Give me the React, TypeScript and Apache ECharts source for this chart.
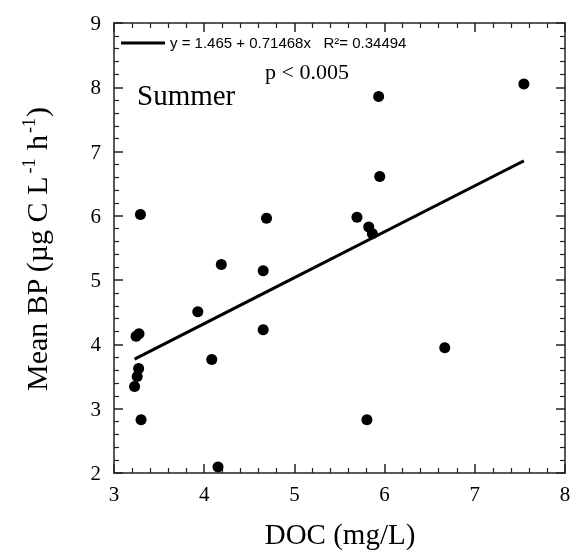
import React, { useEffect, useRef } from "react";
import * as echarts from "echarts";

const docValues = [3.293, 3.245, 3.277, 3.273, 3.257, 3.228, 3.3, 3.929, 4.084, 4.19, 4.153, 4.654, 4.654, 4.691, 5.694, 5.824, 5.865, 5.934, 5.946, 5.804, 6.667, 7.544];
const bpValues = [6.02, 4.127, 4.165, 3.625, 3.5, 3.347, 2.83, 4.508, 3.767, 5.244, 2.093, 5.146, 4.23, 5.964, 5.98, 5.828, 5.72, 7.856, 6.613, 2.829, 3.947, 8.052];
const intercept = 1.465;
const slope = 0.71468;
const xTicks = [3, 8, 1];
const yTicks = [2, 9, 1];
const fitLabel = "y = 1.465 + 0.71468x   R\u00B2= 0.34494";
const pLabel = "p < 0.005";
const seasonLabel = "Summer";
const xTitle = "DOC (mg/L)";
const yTitleParts = [
  { t: "Mean BP (\u00B5g C L", sup: false },
  { t: "-1", sup: true },
  { t: " h", sup: false },
  { t: "-1", sup: true },
  { t: ")", sup: false },
];

const SERIF = "Liberation Serif";
const SANS = "Liberation Sans";
const AX = "#222";

function measure(text: string, font: string) {
  const c = document.createElement("canvas").getContext("2d");
  if (!c) return text.length * 12;
  c.font = font;
  return c.measureText(text).width;
}

function makeAxis(ticks: number[], labels: boolean, labelMargin: number) {
  return {
    type: "value",
    min: ticks[0],
    max: ticks[1],
    interval: ticks[2],
    axisLine: { show: true, lineStyle: { color: AX, width: 1.5 } },
    axisTick: { show: true, inside: true, length: 9, lineStyle: { color: AX, width: 1.5 } },
    minorTick: { show: true, splitNumber: 5, length: 5, lineStyle: { color: AX, width: 1.2 } },
    splitLine: { show: false },
    axisLabel: labels
      ? { show: true, color: "#000", fontFamily: SERIF, fontSize: 21, margin: labelMargin }
      : { show: false },
  };
}

export default function App() {
  const ref = useRef<HTMLDivElement>(null);
  useEffect(() => {
    document.body.style.margin = "0";
    const chart = echarts.init(ref.current!, null, { renderer: "svg" });
    const pts = docValues.map((x, i) => [x, bpValues[i]]);
    const xmin = Math.min(...docValues);
    const xmax = Math.max(...docValues);
    const fit = [
      [xmin, intercept + slope * xmin],
      [xmax, intercept + slope * xmax],
    ];

    const mainFont = `30px ${SERIF}`;
    const supFont = `18px ${SERIF}`;
    const widths = yTitleParts.map((p) => measure(p.t, p.sup ? supFont : mainFont) + (p.sup ? 3 : 0));
    const total = widths.reduce((a, b) => a + b, 0);
    let cx = -total / 2;
    const yChildren = yTitleParts.map((p, i) => {
      const el = {
        type: "text",
        x: cx + (p.sup ? 2 : 0),
        y: p.sup ? -16 : -15,
        style: { text: p.t, fill: "#000", font: p.sup ? supFont : mainFont },
      };
      cx += widths[i];
      return el;
    });

    const xTitleFont = `29px ${SERIF}`;
    const xTitleW = measure(xTitle, xTitleFont);

    chart.setOption({
      animation: false,
      grid: { left: 114, right: 11, top: 23, bottom: 77 },
      xAxis: [makeAxis(xTicks, true, 10), makeAxis(xTicks, false, 0)],
      yAxis: [makeAxis(yTicks, true, 13), makeAxis(yTicks, false, 0)],
      graphic: [
        {
          type: "line",
          shape: { x1: 121, y1: 43, x2: 165, y2: 43 },
          style: { stroke: "#000", lineWidth: 3 },
        },
        {
          type: "text", x: 170, y: 35,
          style: { text: fitLabel, fill: "#000", font: `15px ${SANS}` },
        },
        {
          type: "text", x: 137, y: 80,
          style: { text: seasonLabel, fill: "#000", font: `29px ${SERIF}` },
        },
        {
          type: "text", x: 265, y: 60,
          style: { text: pLabel, fill: "#000", font: `22px ${SERIF}` },
        },
        {
          type: "text", x: 340 - xTitleW / 2, y: 519,
          style: { text: xTitle, fill: "#000", font: xTitleFont },
        },
        {
          type: "group", x: 36, y: 249, rotation: Math.PI / 2,
          children: yChildren,
        },
      ],
      series: [
        {
          name: "points", type: "scatter", data: pts, symbol: "circle", symbolSize: 11,
          itemStyle: { color: "#000", opacity: 1 },
        },
        {
          name: "fit", type: "line", data: fit, showSymbol: false, symbol: "none",
          lineStyle: { color: "#000", width: 3 }, itemStyle: { color: "#000" },
        },
      ],
    });
    return () => chart.dispose();
  }, []);
  return <div ref={ref} style={{ position: "fixed", left: 0, top: 0, width: 576, height: 550 }} />;
}
